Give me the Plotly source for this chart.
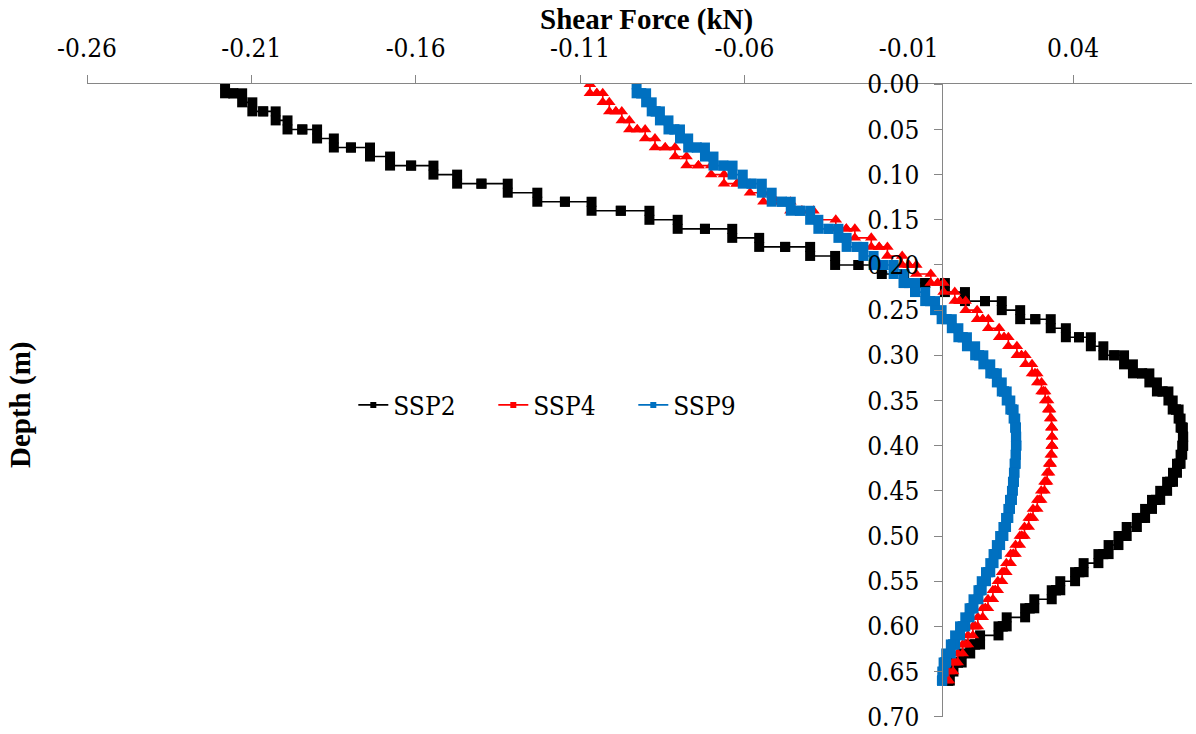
import plotly.graph_objects as go

# Node depths (m), as plotted (rounded to 0.01)
node_depth = [0.00, 0.01, 0.01, 0.02, 0.03, 0.03, 0.04, 0.05, 0.05, 0.06,
              0.07, 0.07, 0.08, 0.09, 0.09, 0.10, 0.11, 0.11, 0.12, 0.13,
              0.13, 0.14, 0.14, 0.15, 0.16, 0.16, 0.17, 0.18, 0.18, 0.19,
              0.20, 0.20, 0.21, 0.22, 0.22, 0.23, 0.24, 0.24, 0.25, 0.26,
              0.26, 0.27, 0.28, 0.28, 0.29, 0.30, 0.30, 0.31, 0.32, 0.32,
              0.33, 0.34, 0.34, 0.35, 0.36, 0.36, 0.37, 0.38, 0.38, 0.39,
              0.40, 0.40, 0.41, 0.42, 0.42, 0.43, 0.44, 0.44, 0.45, 0.46,
              0.46, 0.47, 0.48, 0.48, 0.49, 0.50, 0.50, 0.51, 0.52, 0.52,
              0.53, 0.54, 0.54, 0.55, 0.56, 0.56, 0.57, 0.58, 0.58, 0.59,
              0.60, 0.60, 0.61, 0.62, 0.62, 0.63, 0.64, 0.64, 0.65, 0.66,
              0.66]

# Element shear forces (kN), one per element between consecutive nodes
ssp2_force = [-0.2180, -0.2155, -0.2128, -0.2097, -0.2064, -0.2026, -0.1990, -0.1945, -0.1900, -0.1849,
              -0.1797, -0.1739, -0.1678, -0.1614, -0.1546, -0.1474, -0.1400, -0.1320, -0.1230, -0.1146,
              -0.1065, -0.0976, -0.0889, -0.0803, -0.0720, -0.0637, -0.0555, -0.0476, -0.0400, -0.0324,
              -0.0253, -0.0182, -0.0114, -0.0050, 0.0010, 0.0071, 0.0132, 0.0183, 0.0239, 0.0285,
              0.0332, 0.0378, 0.0418, 0.0454, 0.0492, 0.0525, 0.0555, 0.0582, 0.0610, 0.0632,
              0.0655, 0.0672, 0.0690, 0.0703, 0.0713, 0.0721, 0.0727, 0.0731, 0.0734, 0.0735,
              0.0734, 0.0732, 0.0727, 0.0722, 0.0716, 0.0704, 0.0695, 0.0686, 0.0665, 0.0652,
              0.0640, 0.0619, 0.0609, 0.0594, 0.0563, 0.0551, 0.0538, 0.0508, 0.0492, 0.0477,
              0.0432, 0.0419, 0.0406, 0.0361, 0.0348, 0.0335, 0.0282, 0.0268, 0.0254, 0.0198,
              0.0186, 0.0173, 0.0117, 0.0102, 0.0087, 0.0061, 0.0050, 0.0036, 0.0025, 0.0020]

ssp4_force = [-0.1070, -0.1049, -0.1031, -0.1011, -0.0991, -0.0973, -0.0950, -0.0926, -0.0902, -0.0872,
              -0.0841, -0.0811, -0.0776, -0.0740, -0.0701, -0.0662, -0.0623, -0.0583, -0.0542, -0.0502,
              -0.0460, -0.0425, -0.0390, -0.0322, -0.0290, -0.0264, -0.0214, -0.0190, -0.0165, -0.0120,
              -0.0100, -0.0077, -0.0033, -0.0012, 0.0006, 0.0040, 0.0055, 0.0073, 0.0108, 0.0125,
              0.0142, 0.0175, 0.0190, 0.0203, 0.0229, 0.0243, 0.0255, 0.0275, 0.0284, 0.0291,
              0.0304, 0.0310, 0.0315, 0.0324, 0.0327, 0.0330, 0.0334, 0.0335, 0.0336, 0.0336,
              0.0336, 0.0335, 0.0332, 0.0330, 0.0327, 0.0321, 0.0317, 0.0313, 0.0303, 0.0297,
              0.0291, 0.0278, 0.0271, 0.0265, 0.0252, 0.0244, 0.0238, 0.0225, 0.0218, 0.0210,
              0.0197, 0.0190, 0.0184, 0.0171, 0.0163, 0.0156, 0.0141, 0.0133, 0.0125, 0.0110,
              0.0102, 0.0095, 0.0080, 0.0072, 0.0064, 0.0049, 0.0041, 0.0035, 0.0022, 0.0016]

ssp9_force = [-0.0928, -0.0914, -0.0899, -0.0882, -0.0870, -0.0857, -0.0831, -0.0813, -0.0796, -0.0771,
              -0.0745, -0.0720, -0.0694, -0.0664, -0.0636, -0.0605, -0.0578, -0.0547, -0.0517, -0.0486,
              -0.0459, -0.0431, -0.0400, -0.0375, -0.0344, -0.0314, -0.0289, -0.0258, -0.0238, -0.0207,
              -0.0177, -0.0146, -0.0116, -0.0100, -0.0081, -0.0050, -0.0035, -0.0020, 0.0000, 0.0015,
              0.0031, 0.0051, 0.0064, 0.0077, 0.0102, 0.0114, 0.0127, 0.0148, 0.0158, 0.0168,
              0.0183, 0.0190, 0.0198, 0.0209, 0.0214, 0.0219, 0.0224, 0.0225, 0.0226, 0.0227,
              0.0227, 0.0226, 0.0225, 0.0224, 0.0222, 0.0220, 0.0219, 0.0217, 0.0214, 0.0212,
              0.0208, 0.0203, 0.0200, 0.0196, 0.0188, 0.0184, 0.0178, 0.0168, 0.0163, 0.0158,
              0.0148, 0.0142, 0.0135, 0.0122, 0.0117, 0.0112, 0.0097, 0.0091, 0.0085, 0.0072,
              0.0064, 0.0056, 0.0041, 0.0035, 0.0028, 0.0014, 0.0010, 0.0006, 0.0002, 0.0001]

series_names = ["SSP2", "SSP4", "SSP9"]
x_tick_values = [-0.26, -0.21, -0.16, -0.11, -0.06, -0.01, 0.04]
x_tick_labels = ["-0.26", "-0.21", "-0.16", "-0.11", "-0.06", "-0.01", "0.04"]
y_tick_values = [0.00, 0.05, 0.10, 0.15, 0.20, 0.25, 0.30, 0.35, 0.40, 0.45, 0.50, 0.55, 0.60, 0.65, 0.70]
y_tick_labels = ["0.00", "0.05", "0.10", "0.15", "0.20", "0.25", "0.30", "0.35",
                 "0.40", "0.45", "0.50", "0.55", "0.60", "0.65", "0.70"]

FONT_R = "DejaVu Serif Condensed, DejaVu Serif"   # regular-weight serif text
FONT_B = "Liberation Serif"                         # bold titles
FS_R = 26
FS_B = 29
colors = ["#000000", "#FF0000", "#0070C0"]
symbols = ["square", "triangle-up", "square"]
msizes = [10, 11, 10]


def staircase(forces):
    xs, ys = [], []
    for k, f in enumerate(forces):
        xs += [f, f]
        ys += [node_depth[k], node_depth[k + 1]]
    return xs, ys


fig = go.Figure()
for name, forces, c, s, ms in zip(series_names, [ssp2_force, ssp4_force, ssp9_force], colors, symbols, msizes):
    xs, ys = staircase(forces)
    fig.add_trace(go.Scatter(x=xs, y=ys, mode="lines+markers", name=name, showlegend=False,
                             line=dict(color=c, width=1.6),
                             marker=dict(symbol=s, size=ms, color=c)))
for name, c in zip(series_names, colors):
    fig.add_trace(go.Scatter(x=[None], y=[None], mode="lines+markers", name=name,
                             line=dict(color=c, width=1.6),
                             marker=dict(symbol="square", size=6, color=c)))

xmin = -0.26
xmax = -0.26 + 1105 / 3287
ypos = (0 - xmin) / (xmax - xmin)
plot_top, plot_bottom = 84, 717
plot_h = plot_bottom - plot_top

fig.update_layout(
    width=1196, height=734,
    margin=dict(l=87, r=4, t=plot_top, b=734 - plot_bottom, autoexpand=False),
    paper_bgcolor="white", plot_bgcolor="white",
    font=dict(family=FONT_R, size=FS_R, color="black"),
    xaxis=dict(side="top", range=[xmin, xmax], tickmode="array", automargin=False,
               tickvals=x_tick_values, ticktext=x_tick_labels, ticklabelstandoff=8,
               showgrid=False, zeroline=False, showline=True, linecolor="#868686", linewidth=1.2,
               ticks="outside", ticklen=8, tickcolor="#868686", ticklabeloverflow="allow",
               tickfont=dict(family=FONT_R, size=FS_R, color="black")),
    yaxis=dict(range=[0.7003, -0.0003], anchor="free", position=ypos, tickmode="array",
               automargin=False, ticklabelstandoff=9,
               tickvals=y_tick_values, ticktext=y_tick_labels,
               showgrid=False, zeroline=False, showline=True, linecolor="#868686", linewidth=1.2,
               ticks="outside", ticklen=8, tickcolor="#868686", ticklabeloverflow="allow",
               tickfont=dict(family=FONT_R, size=FS_R, color="black")),
    legend=dict(orientation="h", x=0.241, xanchor="left", y=1 - (405 - plot_top) / plot_h,
                yanchor="middle", entrywidth=95, entrywidthmode="pixels",
                bgcolor="rgba(0,0,0,0)", font=dict(family=FONT_R, size=FS_R, color="black")),
    annotations=[
        dict(text="<b>Shear Force (kN)</b>", xref="paper", yref="paper",
             x=(646 - 87) / 1105, y=1 + (plot_top - 19) / plot_h, xanchor="center", yanchor="middle",
             showarrow=False, font=dict(family=FONT_B, size=FS_B, color="black")),
        dict(text="<b>Depth (m)</b>", xref="paper", yref="paper", textangle=-90,
             x=(20 - 87) / 1105, y=1 - (405 - plot_top) / plot_h, xanchor="center", yanchor="middle",
             showarrow=False, font=dict(family=FONT_B, size=FS_B, color="black")),
    ],
)

fig.write_html("out.html")
